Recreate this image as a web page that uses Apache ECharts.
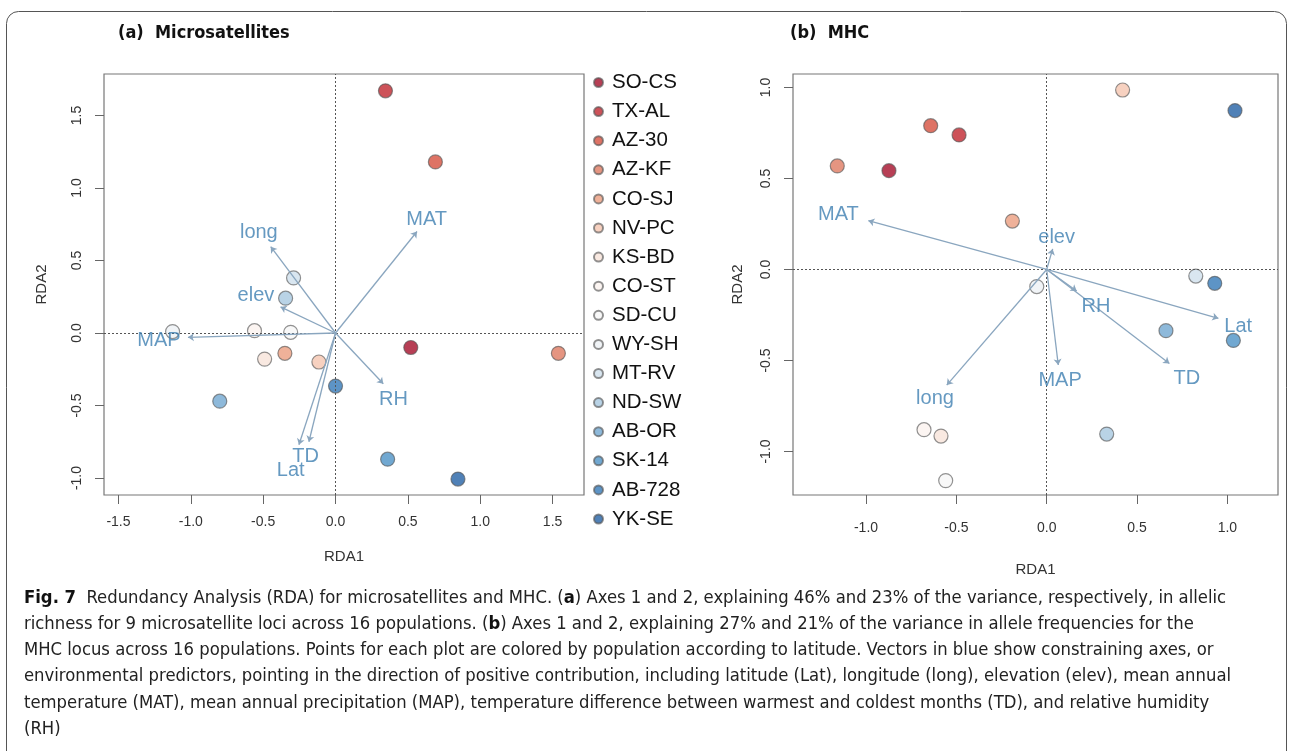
<!DOCTYPE html>
<html><head><meta charset="utf-8">
<script src="https://cdn.jsdelivr.net/npm/echarts@6/dist/echarts.min.js"></script>
<style>html,body{margin:0;padding:0;background:#fff}#c{width:1293px;height:751px}</style>
</head><body><div id="c"></div>
<script>
// ---- data ----
const populations = ['SO-CS','TX-AL','AZ-30','AZ-KF','CO-SJ','NV-PC','KS-BD','CO-ST','SD-CU','WY-SH','MT-RV','ND-SW','AB-OR','SK-14','AB-728','YK-SE'];
const popColors = ['#a50f2b','#c0272f','#d6503f','#de7b62','#eb9d80','#f5c6b0','#f8e4da','#fbf3ef','#f6f6f6','#edf1f5','#d0e0ec','#a8c8e0','#72a8d1','#4d92c6','#3479b8','#2462a5'];

// (a) Microsatellites: site scores
const microX = [0.52, 0.345, 0.69, 1.54, -0.35, -0.115, -0.49, -0.56, -0.31, -1.126, -0.29, -0.345, -0.80, 0.36, 0.0, 0.846];
const microY = [-0.10, 1.67, 1.18, -0.14, -0.14, -0.20, -0.18, 0.016, 0.005, 0.01, 0.38, 0.24, -0.47, -0.87, -0.366, -1.007];
// (b) MHC: site scores
const mhcX = [-0.873, -0.485, -0.642, -1.159, -0.19, 0.42, -0.585, -0.679, -0.559, -0.055, 0.825, 0.332, 0.66, 1.033, 0.93, 1.042];
const mhcY = [0.543, 0.739, 0.79, 0.569, 0.266, 0.986, -0.915, -0.88, -1.16, -0.094, -0.036, -0.904, -0.336, -0.39, -0.076, 0.873];

// environmental vectors (biplot arrows) and their label anchors
const predictors = ['MAT','MAP','Lat','long','elev','TD','RH'];
const microVecX = [0.563, -1.02, -0.253, -0.448, -0.38, -0.184, 0.33];
const microVecY = [0.70, -0.03, -0.77, 0.595, 0.18, -0.75, -0.35];
const microLabX = [0.63, -1.22, -0.31, -0.53, -0.55, -0.207, 0.40];
const microLabY = [0.78, -0.05, -0.945, 0.69, 0.257, -0.853, -0.455];
const mhcVecX = [-0.987, 0.064, 0.95, -0.553, 0.033, 0.679, 0.166];
const mhcVecY = [0.268, -0.525, -0.268, -0.635, 0.113, -0.516, -0.118];
const mhcLabX = [-1.153, 0.074, 1.06, -0.618, 0.055, 0.775, 0.273];
const mhcLabY = [0.30, -0.612, -0.314, -0.711, 0.175, -0.60, -0.204];

// tick labels
const microTicksX = [-1.5, -1.0, -0.5, 0.0, 0.5, 1.0, 1.5];
const microTicksY = [-1.0, -0.5, 0.0, 0.5, 1.0, 1.5];
const mhcTicksX = [-1.0, -0.5, 0.0, 0.5, 1.0];
const mhcTicksY = [-1.0, -0.5, 0.0, 0.5, 1.0];

const captionLines = [
  '{b|Fig. 7}  Redundancy Analysis (RDA) for microsatellites and MHC. ({b|a}) Axes 1 and 2, explaining 46% and 23% of the variance, respectively, in allelic',
  'richness for 9 microsatellite loci across 16 populations. ({b|b}) Axes 1 and 2, explaining 27% and 21% of the variance in allele frequencies for the',
  'MHC locus across 16 populations. Points for each plot are colored by population according to latitude. Vectors in blue show constraining axes, or',
  'environmental predictors, pointing in the direction of positive contribution, including latitude (Lat), longitude (long), elevation (elev), mean annual',
  'temperature (MAT), mean annual precipitation (MAP), temperature difference between warmest and coldest months (TD), and relative humidity',
  '(RH)'
];

// ---- styles ----
const NARROW = '"Liberation Sans Narrow","Arial Narrow","DejaVu Sans Condensed",sans-serif';
const SANS = '"Liberation Sans",Arial,sans-serif';
const vecColor = '#8aa6bf';
const labColor = '#3f7fb2';
const CAP = 18.3;

function xAxisCfg(idx, min, max, ticks, gap, margin) {
  return {
    gridIndex: idx, type: 'value', min: min, max: max,
    axisLine: {show: false, onZero: false}, splitLine: {show: false},
    axisTick: {show: true, length: 9, lineStyle: {color: '#666'}, customValues: ticks},
    axisLabel: {customValues: ticks, formatter: v => v.toFixed(1), margin: margin, fontSize: 14, color: '#333', fontFamily: SANS},
    name: 'RDA1', nameLocation: 'middle', nameGap: gap,
    nameTextStyle: {fontSize: 15, color: '#333', fontFamily: SANS}
  };
}
function yAxisCfg(idx, min, max, ticks, gap) {
  return {
    gridIndex: idx, type: 'value', min: min, max: max,
    axisLine: {show: false, onZero: false}, splitLine: {show: false},
    axisTick: {show: true, length: 9, lineStyle: {color: '#666'}, customValues: ticks},
    axisLabel: {customValues: ticks, formatter: v => v.toFixed(1), rotate: 90, margin: 20, fontSize: 14, color: '#333', fontFamily: SANS},
    name: 'RDA2', nameLocation: 'middle', nameGap: gap,
    nameTextStyle: {fontSize: 15, color: '#333', fontFamily: SANS}
  };
}

const series = [];
// dotted zero lines
[0, 1].forEach(g => {
  series.push({
    type: 'scatter', xAxisIndex: g, yAxisIndex: g, data: [], silent: true, z: 1,
    markLine: {silent: true, symbol: ['none', 'none'], animation: false, label: {show: false},
      lineStyle: {color: '#555', type: [2, 2], width: 1},
      data: [{xAxis: 0}, {yAxis: 0}]}
  });
});
// population points
populations.forEach((p, i) => {
  const st = {color: popColors[i], borderColor: 'rgba(85,85,85,0.8)', borderWidth: 1.2};
  series.push({name: p, type: 'scatter', xAxisIndex: 0, yAxisIndex: 0, symbolSize: 14, itemStyle: st, z: 3,
    data: [[microX[i], microY[i]]]});
  series.push({name: p, type: 'scatter', xAxisIndex: 1, yAxisIndex: 1, symbolSize: 14, itemStyle: st, z: 3,
    data: [[mhcX[i], mhcY[i]]]});
});
// vectors and labels
function vectorSeries(g, vx, vy, lx, ly) {
  series.push({
    type: 'scatter', xAxisIndex: g, yAxisIndex: g, data: [], silent: true, z: 4,
    markLine: {silent: true, symbol: ['none', 'arrow'], symbolSize: 6, animation: false, label: {show: false},
      lineStyle: {color: vecColor, type: 'solid', width: 1.3},
      data: predictors.map((n, k) => [{coord: [0, 0]}, {coord: [vx[k], vy[k]]}])}
  });
  series.push({
    type: 'scatter', xAxisIndex: g, yAxisIndex: g, symbolSize: 1, silent: true, z: 5,
    itemStyle: {color: 'rgba(0,0,0,0)'},
    label: {show: true, position: 'inside', formatter: '{b}', color: labColor, fontSize: 20, fontFamily: SANS},
    data: predictors.map((n, k) => ({name: n, value: [lx[k], ly[k]]}))
  });
}
vectorSeries(0, microVecX, microVecY, microLabX, microLabY);
vectorSeries(1, mhcVecX, mhcVecY, mhcLabX, mhcLabY);

const graphics = [
  {type: 'rect', silent: true, z: -10, shape: {x: 6.5, y: 11.5, width: 1280, height: 770, r: 12},
   style: {fill: 'none', stroke: '#555', lineWidth: 1}},
  {type: 'text', silent: true, style: {text: '(a)  Microsatellites', x: 118, y: 33, verticalAlign: 'middle',
   fontSize: 18, fontWeight: 'bold', fontFamily: NARROW, fill: '#111'}},
  {type: 'text', silent: true, style: {text: '(b)  MHC', x: 790, y: 33, verticalAlign: 'middle',
   fontSize: 18, fontWeight: 'bold', fontFamily: NARROW, fill: '#111'}}
];
captionLines.forEach((t, i) => {
  graphics.push({type: 'text', silent: true, style: {text: t, x: 24, y: 598 + i * 26.2, verticalAlign: 'middle',
    fontSize: CAP, fontFamily: NARROW, fill: '#222',
    rich: {b: {fontWeight: 'bold', fontSize: CAP, fontFamily: NARROW, fill: '#111'}}}});
});

const option = {
  animation: false,
  backgroundColor: '#fff',
  grid: [
    {left: 104, top: 74, width: 480, height: 421, show: true, borderColor: '#777', borderWidth: 1.2, backgroundColor: 'transparent'},
    {left: 793, top: 74, width: 485, height: 421, show: true, borderColor: '#777', borderWidth: 1.2, backgroundColor: 'transparent'}
  ],
  xAxis: [xAxisCfg(0, -1.6, 1.717, microTicksX, 54, 20), xAxisCfg(1, -1.404, 1.28, mhcTicksX, 67, 26)],
  yAxis: [yAxisCfg(0, -1.117, 1.786, microTicksY, 55), yAxisCfg(1, -1.239, 1.074, mhcTicksY, 48)],
  legend: {
    orient: 'vertical', left: 593, top: 72, padding: 0, itemWidth: 9, itemHeight: 9, itemGap: 8.1, icon: 'circle',
    textStyle: {fontSize: 20.5, lineHeight: 20.5, color: '#111', fontFamily: SANS, padding: [0, 0, 0, 4]},
    data: populations, selectedMode: false
  },
  graphic: graphics,
  series: series
};
const chart = echarts.init(document.getElementById('c'), null, {renderer: 'canvas'});
chart.setOption(option);
</script></body></html>
